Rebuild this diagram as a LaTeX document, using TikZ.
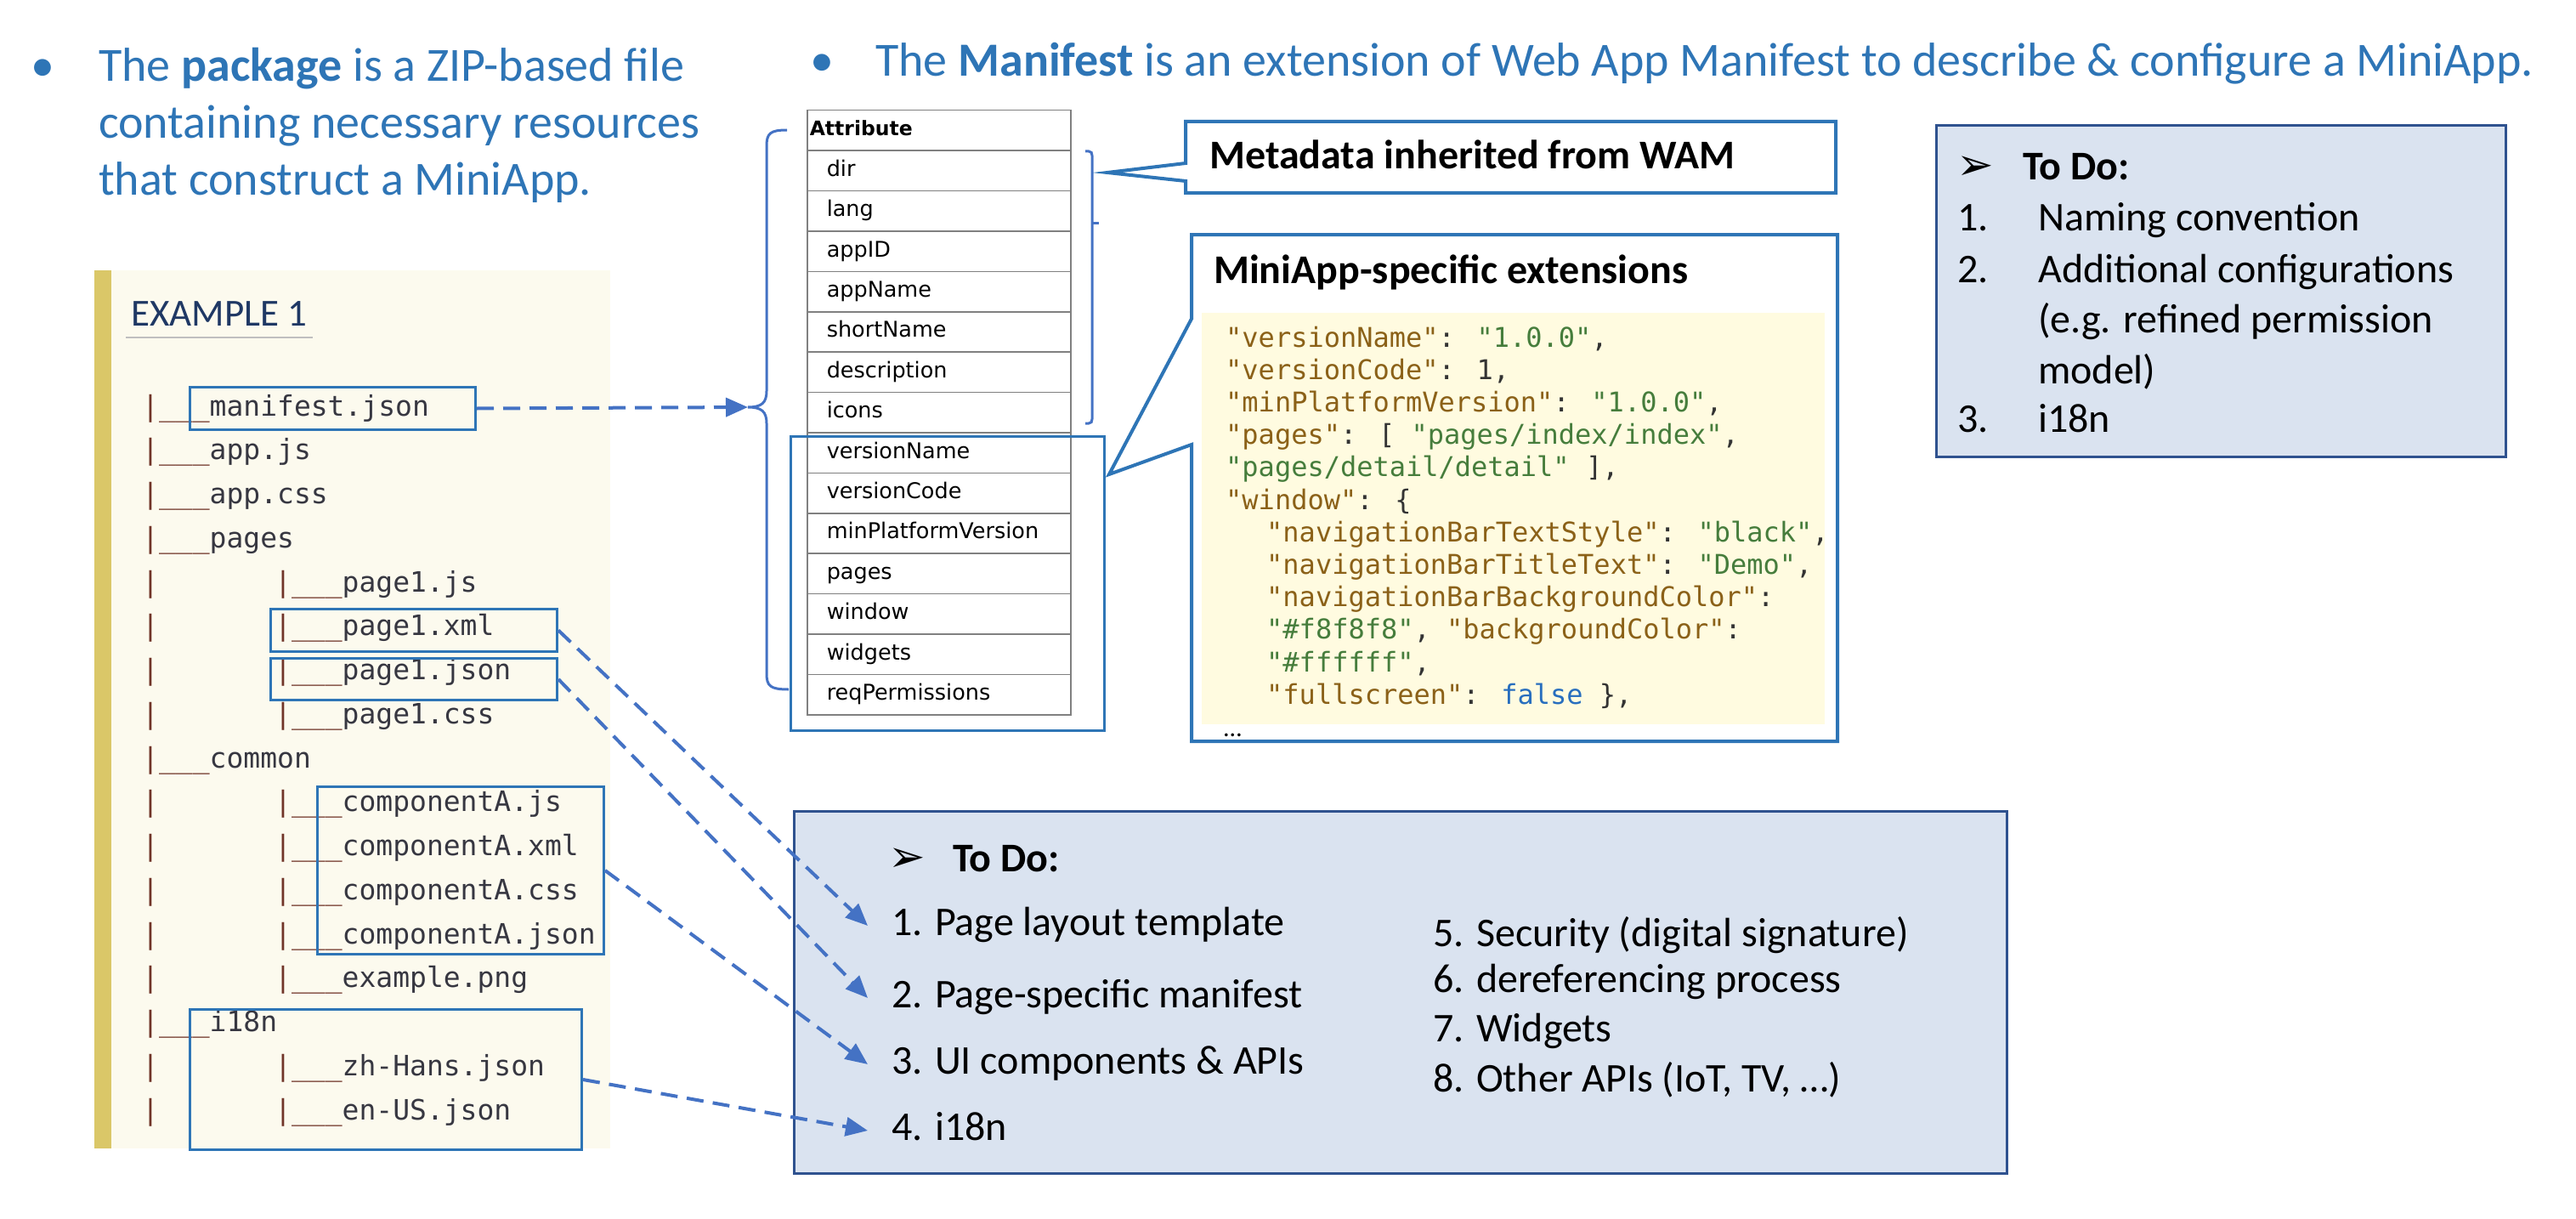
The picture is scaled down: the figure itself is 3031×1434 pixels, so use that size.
\documentclass[tikz,border=0pt]{standalone}
\usepackage{fontspec}
\setmainfont{Carlito}
\newfontfamily\tablefont{DejaVu Sans}
\newfontfamily\codefont{DejaVu Sans Mono}
\newfontfamily\symfont{DejaVu Sans}
\usetikzlibrary{arrows.meta}
\definecolor{titleblue}{RGB}{46,117,182}
\definecolor{boxblue}{RGB}{46,117,182}
\definecolor{arrowblue}{RGB}{68,114,196}
\definecolor{todofill}{RGB}{218,227,240}
\definecolor{todoborder}{RGB}{47,82,143}
\definecolor{panelfill}{RGB}{252,250,238}
\definecolor{barcol}{RGB}{218,199,104}
\definecolor{codebgcol}{RGB}{255,251,224}
\definecolor{codekey}{RGB}{139,97,24}
\definecolor{codestr}{RGB}{70,125,60}
\definecolor{codekw}{RGB}{40,110,190}
\definecolor{codepunct}{RGB}{51,51,51}
\definecolor{pipecol}{RGB}{112,52,40}
\definecolor{namecol}{RGB}{55,55,65}
\definecolor{examplecol}{RGB}{31,56,100}
\definecolor{gridgray}{RGB}{128,128,128}
\newcommand\ck[1]{\textcolor{codekey}{#1}}
\newcommand\cstr[1]{\textcolor{codestr}{#1}}
\newcommand\ckw[1]{\textcolor{codekw}{#1}}
\begin{document}
\begin{tikzpicture}[x=1pt,y=-1pt,
  bullettext/.style={anchor=base west, inner sep=0pt, text=titleblue, font=\fontsize{56}{67}\selectfont},
  treetxt/.style={anchor=base west, inner sep=0pt, text=namecol, font=\codefont\fontsize{33}{40}\selectfont},
  treebox/.style={draw=boxblue, line width=3pt, inner sep=0pt, anchor=north west},
  cell/.style={draw=gridgray, line width=1.5pt, anchor=north west, minimum height=47.4pt, inner xsep=23pt, inner ysep=0pt, text width=264pt, align=left, text height=18pt, text depth=5pt, font=\tablefont\fontsize{25.5}{30}\selectfont},
  bracestyle/.style={draw=arrowblue, line width=3pt},
  callout/.style={draw=boxblue, line width=4pt, fill=white, line join=miter},
  calltitle/.style={anchor=base west, inner sep=0pt, font=\bfseries\fontsize{48}{58}\selectfont},
  codeline/.style={anchor=base west, inner sep=0pt, text=codepunct, font=\codefont\fontsize{32}{38}\selectfont},
  todobox/.style={draw=todoborder, fill=todofill, line width=3pt, anchor=north west, inner sep=0pt},
  todotxt/.style={anchor=base west, inner sep=0pt, font=\fontsize{48}{58}\selectfont, text height=34pt, text depth=12pt},
  todohead/.style={anchor=base west, inner sep=0pt, font=\bfseries\fontsize{48}{58}\selectfont},
  todosym/.style={anchor=base west, inner sep=0pt, font=\symfont\fontsize{52}{60}\selectfont},
  dasharrow/.style={draw=arrowblue, line width=4pt, dash pattern=on 20pt off 11pt, -{Triangle[length=26pt,width=22pt]}}
]
\useasboundingbox (0,0) rectangle (3031,1434);

% ---------- bullet texts ----------
\node[bullettext] (dot1) at (36,96) {•};
\node[bullettext] (b1a) at (116,96) {The \textbf{package} is a ZIP-based file};
\node[bullettext] (b1b) at (116,163) {containing necessary resources};
\node[bullettext] (b1c) at (116,230) {that construct a MiniApp.};
\node[bullettext] (dot2) at (953,90) {•};
\node[bullettext] (b2) at (1030,90) {The \textbf{Manifest} is an extension of Web App Manifest to describe \& configure a MiniApp.};

% ---------- file tree panel ----------
\node[fill=panelfill, anchor=north west, minimum width=607pt, minimum height=1033pt, inner sep=0pt] (panel) at (111,318) {};
\node[fill=barcol, anchor=north west, minimum width=20pt, minimum height=1033pt, inner sep=0pt] (bar) at (111,318) {};
\node[anchor=base west, inner sep=0pt, text=examplecol, font=\fontsize{45}{54}\selectfont] (ex) at (154,383) {EXAMPLE 1};
\draw[black!25, line width=2.5pt] (148,397) -- (368,397);

\foreach \k/\lv/\nm in {0/1/manifest.json,1/1/app.js,2/1/app.css,3/1/pages,4/2/page1.js,5/2/page1.xml,6/2/page1.json,7/2/page1.css,8/1/common,9/2/componentA.js,10/2/componentA.xml,11/2/componentA.css,12/2/componentA.json,13/2/example.png,14/1/i18n,15/2/zh-Hans.json,16/2/en-US.json}{
  \pgfmathsetmacro\yy{489+51.75*\k}
  \ifnum\lv=1
    \node[treetxt] (tr\k) at (167,\yy) {\textcolor{pipecol}{|\_\_\_}\nm};
  \else
    \node[treetxt] (tp\k) at (167,\yy) {\textcolor{pipecol}{|}};
    \node[treetxt] (tr\k) at (323,\yy) {\textcolor{pipecol}{|\_\_\_}\nm};
  \fi
}

\node[treebox, minimum width=336pt, minimum height=50pt] (bman) at (222,454) {};
\node[treebox, minimum width=337pt, minimum height=50pt] (bxml) at (317,715) {};
\node[treebox, minimum width=337pt, minimum height=49pt] (bjson) at (317,773) {};
\node[treebox, minimum width=337pt, minimum height=197pt] (bcomp) at (372,924) {};
\node[treebox, minimum width=461pt, minimum height=165pt] (bi18n) at (222,1186) {};

% ---------- attribute table ----------
\node[cell, inner xsep=3pt, text width=304pt, font=\tablefont\bfseries\fontsize{23.5}{28}\selectfont] (row0) at (949,129) {Attribute};
\foreach \lab [count=\i] in {dir,lang,appID,appName,shortName,description,icons,versionName,versionCode,minPlatformVersion,pages,window,widgets,reqPermissions}{
  \node[cell] (row\i) at (949,{129+47.4*\i}) {\lab};
}
\node[draw=boxblue, line width=3pt, anchor=north west, minimum width=369pt, minimum height=346pt, inner sep=0pt] (extbox) at (929,512) {};

% braces
\coordinate (bracetip) at (880,479);
\draw[bracestyle] (926,153) .. controls (906,153) and (902,157) .. (902,172) -- (902,460)
  .. controls (902,474) and (896,479) .. (bracetip)
  .. controls (896,479) and (902,484) .. (902,498) -- (902,792)
  .. controls (902,807) and (906,811) .. (928,811);
\coordinate (rbtip) at (1293,262);
\draw[bracestyle] (1277,178) -- (1281,178) .. controls (1284,178) and (1285,180) .. (1285,183) -- (1285,493)
  .. controls (1285,496) and (1284,498) .. (1281,498) -- (1277,498);
\draw[bracestyle] (1285,262) -- (rbtip);

% ---------- callouts ----------
\draw[callout] (1395,143) -- (2160,143) -- (2160,227) -- (1395,227) -- (1395,213) -- (1303,203) -- (1395,192) -- cycle;
\node[calltitle] (meta) at (1423,199) {Metadata inherited from WAM};

\draw[callout] (1402,276) -- (2162,276) -- (2162,872) -- (1402,872) -- (1402,523) -- (1305,558) -- (1402,375) -- cycle;
\node[calltitle] (mtitle) at (1428,333) {MiniApp-specific extensions};
\node[fill=codebgcol, anchor=north west, minimum width=733pt, minimum height=484pt, inner sep=0pt] (codebg) at (1414,368) {};

\node[codeline] (c0) at (1442,408) {\ck{"versionName"}: \cstr{"1.0.0"},};
\node[codeline] (c1) at (1442,446.2) {\ck{"versionCode"}: 1,};
\node[codeline] (c2) at (1442,484.4) {\ck{"minPlatformVersion"}: \cstr{"1.0.0"},};
\node[codeline] (c3) at (1442,522.6) {\ck{"pages"}: [ \cstr{"pages/index/index"},};
\node[codeline] (c4) at (1442,560.8) {\cstr{"pages/detail/detail"} ],};
\node[codeline] (c5) at (1442,599) {\ck{"window"}: \{};
\node[codeline] (c6) at (1490,637.2) {\ck{"navigationBarTextStyle"}: \cstr{"black"},};
\node[codeline] (c7) at (1490,675.4) {\ck{"navigationBarTitleText"}: \cstr{"Demo"},};
\node[codeline] (c8) at (1490,713.6) {\ck{"navigationBarBackgroundColor"}:};
\node[codeline] (c9) at (1490,751.8) {\cstr{"\#f8f8f8"}, \ck{"backgroundColor"}:};
\node[codeline] (c10) at (1490,790) {\cstr{"\#ffffff"},};
\node[codeline] (c11) at (1490,828.2) {\ck{"fullscreen"}: \ckw{false} \},};
\node[anchor=base west, inner sep=0pt, font=\fontsize{30}{36}\selectfont] (dots) at (1440,866) {…};

% ---------- right To Do box ----------
\node[todobox, minimum width=670pt, minimum height=390pt] (todo1) at (2277,146) {};
\node[todosym] (s1) at (2302,212) {➢};
\node[todohead] (h1) at (2380,212) {To Do:};
\node[todotxt] (n1) at (2303,271) {1.};
\node[todotxt] (r1) at (2398,271) {Naming convention};
\node[todotxt] (n2) at (2303,332) {2.};
\node[todotxt] (r2) at (2398,332) {Additional configurations};
\node[todotxt] (r2b) at (2398,391) {(e.g. refined permission};
\node[todotxt] (r2c) at (2398,451) {model)};
\node[todotxt] (n3) at (2303,508) {3.};
\node[todotxt] (r3) at (2398,508) {i18n};

% ---------- bottom To Do box ----------
\node[todobox, minimum width=1427pt, minimum height=426pt] (todo2) at (933,953) {};
\node[todosym] (s2) at (1045,1025) {➢};
\node[todohead] (h2) at (1121,1025) {To Do:};
\node[todotxt] (i1) at (1049,1100) {1. Page layout template};
\node[todotxt] (i2) at (1049,1185) {2. Page-specific manifest};
\node[todotxt] (i3) at (1049,1263) {3. UI components \& APIs};
\node[todotxt] (i4) at (1049,1341) {4. i18n};
\node[todotxt] (i5) at (1686,1113) {5. Security (digital signature)};
\node[todotxt] (i6) at (1686,1167) {6. dereferencing process};
\node[todotxt] (i7) at (1686,1225) {7. Widgets};
\node[todotxt] (i8) at (1686,1284) {8. Other APIs (IoT, TV, …)};

% ---------- connectors ----------
\draw[dasharrow] (bman.east) -- (bracetip);
\draw[dasharrow] (bxml.east) -- ([xshift=-28pt]i1.west);
\draw[dasharrow] (bjson.east) -- ([xshift=-28pt]i2.west);
\draw[dasharrow] (bcomp.east) -- ([xshift=-28pt]i3.west);
\draw[dasharrow] (bi18n.east) -- ([xshift=-28pt]i4.west);
\end{tikzpicture}
\end{document}
